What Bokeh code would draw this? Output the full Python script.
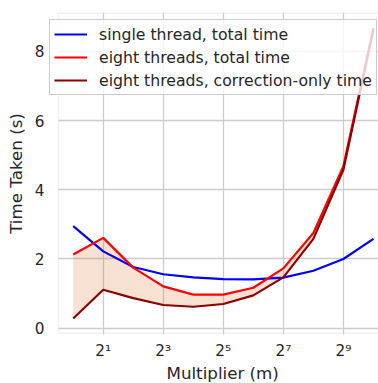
from bokeh.plotting import figure
from bokeh.models import (Range1d, FixedTicker, Legend, LegendItem,
                          ColumnDataSource, BoxAnnotation, Title)
from bokeh.embed import file_html
from bokeh.resources import INLINE

# Multiplier values (powers of two) and measured timings in seconds
multiplier = [1, 2, 4, 8, 16, 32, 64, 128, 256, 512, 1024]
single_total = [2.95, 2.22, 1.77, 1.56, 1.47, 1.42, 1.41, 1.46, 1.66, 2.00, 2.58]
eight_total = [2.13, 2.61, 1.75, 1.21, 0.97, 0.97, 1.17, 1.73, 2.75, 4.68, 8.68]
eight_correction = [0.28, 1.11, 0.87, 0.67, 0.62, 0.70, 0.95, 1.47, 2.58, 4.58, 8.62]

series_labels = ["single thread, total time",
                 "eight threads, total time",
                 "eight threads, correction-only time"]

x_tick_exponents = [1, 3, 5, 7, 9]
y_ticks = [0, 2, 4, 6, 8]

SUP = str.maketrans("0123456789", "⁰¹²³⁴⁵⁶⁷⁸⁹")
x_ticks = [2 ** e for e in x_tick_exponents]
x_tick_labels = {2 ** e: "2" + str(e).translate(SUP) for e in x_tick_exponents}

FONT = "DejaVu Sans"
TEXT = "#262626"
GRID = "#cccccc"

# axes box limits (spines) and the visible ranges around them
X_LEFT = 2 ** -0.49
Y_BOTTOM, Y_TOP = -0.145, 9.104

src = ColumnDataSource(dict(x=multiplier, single=single_total,
                            eight=eight_total, corr=eight_correction))

p = figure(width=378, height=383, x_axis_type="log",
           x_range=Range1d(2 ** -0.79, 2 ** 10.17),
           y_range=Range1d(-0.182, 9.124),
           output_backend="svg", toolbar_location=None,
           min_border_left=49, min_border_right=0,
           min_border_top=12, min_border_bottom=49)
p.outline_line_color = None
p.background_fill_color = "white"
p.border_fill_color = "white"

# band between total and correction-only time for eight threads
p.varea(x="x", y1="corr", y2="eight", source=src,
        fill_color="chocolate", fill_alpha=0.2)

r_single = p.line("x", "single", source=src, line_color="blue", line_width=2.2)
r_eight = p.line("x", "eight", source=src, line_color="red", line_width=2.2)
r_corr = p.line("x", "corr", source=src, line_color="darkred", line_width=2.2)

# axes
xa = p.xaxis[0]
xa.ticker = FixedTicker(ticks=x_ticks, minor_ticks=[])
xa.major_label_overrides = x_tick_labels
ya = p.yaxis[0]
ya.ticker = FixedTicker(ticks=y_ticks, minor_ticks=[])

for ax in (xa, ya):
    ax.axis_line_color = None
    ax.major_tick_line_color = None
    ax.minor_tick_line_color = None
    ax.major_tick_out = 0
    ax.major_tick_in = 0
    ax.major_label_text_font = FONT
    ax.major_label_text_font_size = "15.3px"
    ax.major_label_text_color = TEXT
    ax.axis_label_text_font = FONT
    ax.axis_label_text_font_size = "16.7px"
    ax.axis_label_text_font_style = "normal"
    ax.axis_label_text_color = TEXT

xa.major_label_standoff = 7
ya.axis_label = "Time Taken (s)"
ya.major_label_standoff = 5
ya.axis_label_standoff = 6

# x axis title, placed under the middle of the spine-bounded box
x_title = Title(text="Multiplier (m)", align="left", offset=117,
                standoff=0, text_font=FONT, text_font_size="16.7px",
                text_font_style="normal", text_color=TEXT)
try:
    x_title.standoff = -3
except ValueError:
    pass
p.add_layout(x_title, "below")

p.xgrid.grid_line_color = GRID
p.xgrid.grid_line_width = 1.3
p.ygrid.grid_line_color = GRID
p.ygrid.grid_line_width = 1.3

# blank strip left of the axes box, so grid lines start at the spine
p.add_layout(BoxAnnotation(right=X_LEFT, fill_color="white", fill_alpha=1,
                           line_color=None))
# axes box (spines); its right side lies beyond the visible range
p.add_layout(BoxAnnotation(left=X_LEFT, right=2 ** 10.6,
                           bottom=Y_BOTTOM, top=Y_TOP,
                           fill_alpha=0, line_color=GRID, line_width=1.4))

legend = Legend(items=[LegendItem(label=series_labels[0], renderers=[r_single]),
                       LegendItem(label=series_labels[1], renderers=[r_eight]),
                       LegendItem(label=series_labels[2], renderers=[r_corr])],
                location=(0, 239))
legend.label_text_font = FONT
legend.label_text_font_size = "15.7px"
legend.label_text_color = TEXT
legend.glyph_width = 33
legend.glyph_height = 20
legend.label_height = 20
legend.label_standoff = 12
legend.padding = 4
legend.spacing = 3
legend.margin = 0
legend.border_line_color = GRID
legend.border_line_alpha = 1
legend.border_line_width = 1.2
legend.background_fill_color = "white"
legend.background_fill_alpha = 0.8
p.add_layout(legend, "center")

open("out.html", "w").write(file_html(p, INLINE))
